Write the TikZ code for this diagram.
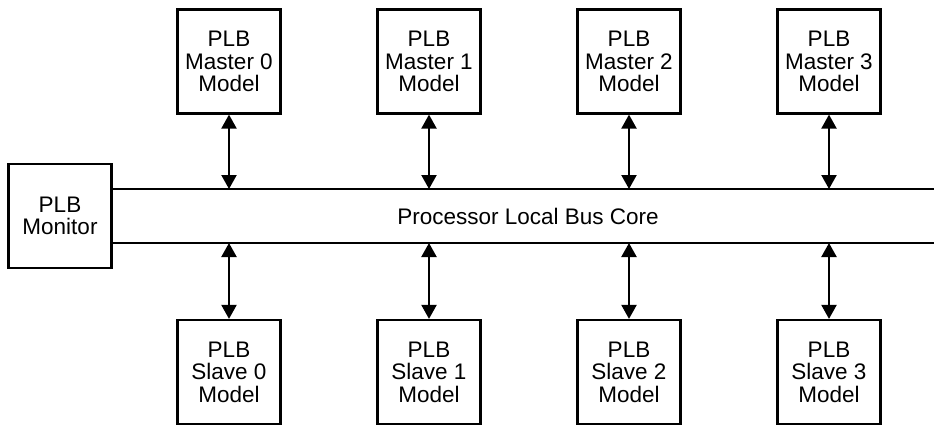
\documentclass[tikz,border=0pt]{standalone}
\usepackage{fontspec}
\setmainfont{Liberation Sans}
\usetikzlibrary{arrows.meta}
\begin{document}
\begin{tikzpicture}[x=1pt,y=-1pt,
  blk/.style={draw, line width=2.2pt, minimum width=103pt, minimum height=104pt, inner sep=0pt, align=center, font=\fontsize{22.5}{22.5}\selectfont},
  busline/.style={line width=2pt},
  link/.style={line width=2.2pt, {Triangle[length=14pt,width=15pt]}-{Triangle[length=14pt,width=15pt]}}]
\useasboundingbox (0,0) rectangle (934,425);
\node[blk] (mon) at (60,216) {PLB\\Monitor};
\coordinate (busTR) at (934,189);
\coordinate (busBR) at (934,243);
\coordinate (busTL) at (mon.east |- busTR);
\coordinate (busBL) at (mon.east |- busBR);
\draw[busline] (busTL) -- (busTR);
\draw[busline] (busBL) -- (busBR);
\node[font=\fontsize{22.5}{22.5}\selectfont] (core) at (528,216) {Processor Local Bus Core};
\foreach \i in {0,1,2,3} {
  \pgfmathsetmacro{\xx}{229+200*\i}
  \node[blk] (m\i) at (\xx,61.5) {PLB\\Master \i\\Model};
  \node[blk] (s\i) at (\xx,372) {PLB\\Slave \i\\Model};
  \coordinate (t\i) at (\xx,189);
  \coordinate (b\i) at (\xx,243);
  \draw[link] (m\i.south) -- (t\i);
  \draw[link] (b\i) -- (s\i.north);
}
\end{tikzpicture}
\end{document}
